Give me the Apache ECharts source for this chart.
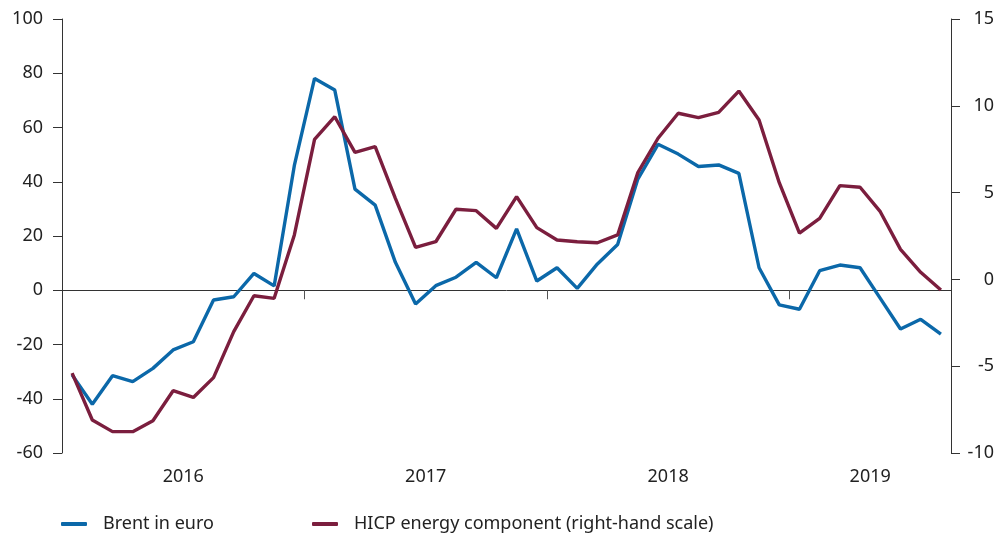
<!DOCTYPE html>
<html>
<head>
<meta charset="utf-8">
<script src="https://cdn.jsdelivr.net/npm/echarts@6/dist/echarts.min.js"></script>
<style>
  html, body { margin: 0; padding: 0; background: #fff; }
  #chart { width: 1008px; height: 538px; }
</style>
</head>
<body>
<div id="chart"></div>
<script>
// monthly, Jan 2016 - Aug 2019
var years = ['2016', '2017', '2018', '2019'];
var monthsPerYear = [12, 12, 12, 8];

// Brent in euro, annual % change (left-hand scale)
var brent = [
    -31.2, -42.0, -31.5, -33.7, -28.8, -22.0, -19.0, -3.6, -2.4, 6.2, 1.6, 46.0,
    78.1, 73.8, 37.3, 31.4, 10.3, -5.1, 1.7, 4.8, 10.3, 4.6, 22.6, 3.4,
    8.3, 0.7, 9.7, 16.9, 41.0, 53.8, 50.2, 45.6, 46.2, 43.1, 8.3, -5.4,
    -7.0, 7.2, 9.3, 8.3, -3.0, -14.3, -10.7, -16.2
];

// HICP energy component, annual % change (right-hand scale)
var hicp = [
    -5.4, -8.1, -8.77, -8.77, -8.14, -6.41, -6.8, -5.66, -3.01, -0.94, -1.09, 2.56,
    8.07, 9.37, 7.32, 7.65, 4.67, 1.85, 2.17, 4.04, 3.96, 2.94, 4.77, 2.98,
    2.27, 2.17, 2.11, 2.56, 6.15, 8.13, 9.57, 9.32, 9.62, 10.85, 9.18, 5.57,
    2.66, 3.52, 5.40, 5.31, 3.90, 1.73, 0.41, -0.61
];

var leftTicks = { min: -60, max: 100, interval: 20 };
var rightTicks = { min: -10, max: 15, interval: 5 };

(function () {
    'use strict';
    var FONT = '"Noto Sans", sans-serif';
    var TEXT = '#222';
    var AXIS = '#333';
    var SIZE = 18;

    // year boundaries and year label positions in month units
    var totalMonths = 0, yearEdges = [], yearMid = [];
    monthsPerYear.forEach(function (n, i) {
        yearMid.push(totalMonths + n / 2);
        totalMonths += n;
        if (i < monthsPerYear.length - 1) yearEdges.push(totalMonths);
    });

    function toPoints(values) {
        return values.map(function (v, i) { return [i + 0.5, v]; });
    }

    var chart = echarts.init(document.getElementById('chart'));
    chart.setOption({
        animation: false,
        backgroundColor: '#fff',
        grid: { left: 62, right: 57, top: 19, bottom: 85 },
        xAxis: [{
            type: 'value', min: 0, max: totalMonths,
            axisLine: { show: true, onZero: true, onZeroAxisIndex: 0, lineStyle: { color: AXIS, width: 1 } },
            axisTick: { show: true, length: 9, customValues: yearEdges, lineStyle: { color: '#555' } },
            axisLabel: { show: false },
            splitLine: { show: false }
        }, {
            type: 'value', min: 0, max: totalMonths, position: 'bottom',
            axisLine: { show: false, onZero: false },
            axisTick: { show: false },
            splitLine: { show: false },
            axisLabel: {
                customValues: yearMid, margin: 15,
                color: TEXT, fontFamily: FONT, fontSize: SIZE,
                formatter: function (v) { return years[yearMid.indexOf(v)]; }
            }
        }],
        yAxis: [{
            type: 'value', min: leftTicks.min, max: leftTicks.max, interval: leftTicks.interval,
            position: 'left',
            axisLine: { show: true, onZero: false, lineStyle: { color: AXIS } },
            axisTick: { show: true, length: 9, lineStyle: { color: AXIS } },
            axisLabel: { margin: 19, color: TEXT, fontFamily: FONT, fontSize: SIZE },
            splitLine: { show: false }
        }, {
            type: 'value', min: rightTicks.min, max: rightTicks.max, interval: rightTicks.interval,
            position: 'right',
            axisLine: { show: true, onZero: false, lineStyle: { color: AXIS } },
            axisTick: { show: true, length: 9, lineStyle: { color: AXIS } },
            axisLabel: { margin: 43, align: 'right', color: TEXT, fontFamily: FONT, fontSize: SIZE },
            splitLine: { show: false }
        }],
        legend: [{
            data: ['Brent in euro'], left: 56, top: 510,
            icon: 'roundRect', itemWidth: 26, itemHeight: 4,
            textStyle: { color: TEXT, fontFamily: FONT, fontSize: SIZE, padding: [0, 0, 0, 11] }
        }, {
            data: ['HICP energy component (right-hand scale)'], left: 307, top: 510,
            icon: 'roundRect', itemWidth: 26, itemHeight: 4,
            textStyle: { color: TEXT, fontFamily: FONT, fontSize: SIZE, padding: [0, 0, 0, 11] }
        }],
        series: [{
            name: 'Brent in euro', type: 'line', xAxisIndex: 0, yAxisIndex: 0,
            data: toPoints(brent), showSymbol: false,
            itemStyle: { color: '#0b68a9' },
            lineStyle: { color: '#0b68a9', width: 3.4 }
        }, {
            name: 'HICP energy component (right-hand scale)', type: 'line', xAxisIndex: 0, yAxisIndex: 1,
            data: toPoints(hicp), showSymbol: false,
            itemStyle: { color: '#7b1e3e' },
            lineStyle: { color: '#7b1e3e', width: 3.4 }
        }]
    });
})();
</script>
</body>
</html>
